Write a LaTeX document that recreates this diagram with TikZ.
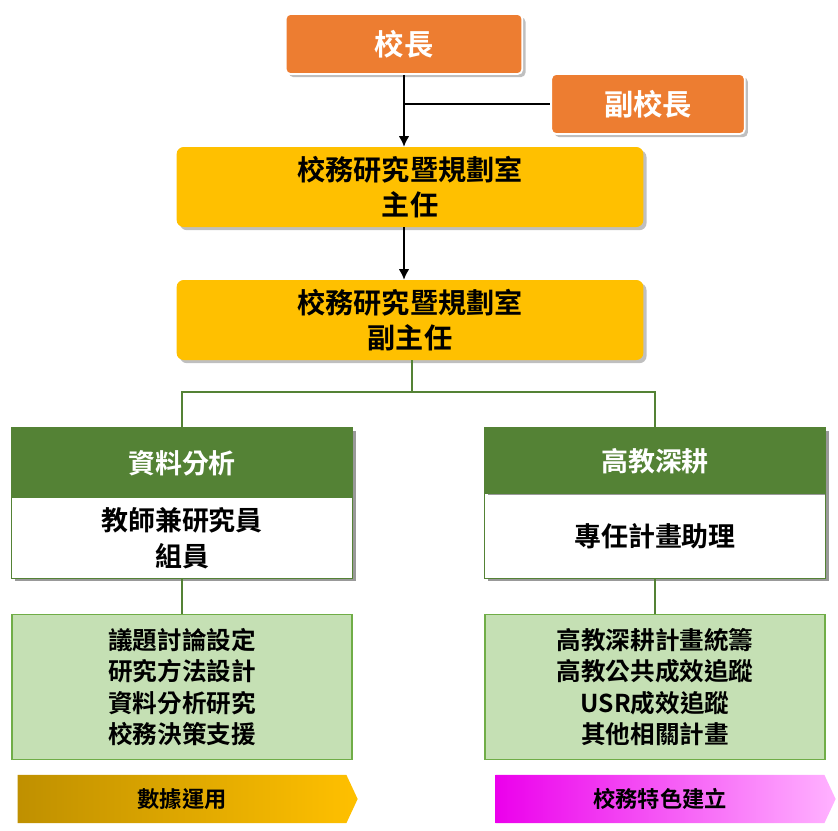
\documentclass[tikz,border=0pt]{standalone}
\usepackage{fontspec}
\setmainfont{Noto Sans CJK TC}[BoldFont={* Bold}]
\usetikzlibrary{shapes.symbols,shadows,arrows.meta}
\definecolor{orangebox}{HTML}{ED7D31}
\definecolor{yellowbox}{HTML}{FFC000}
\definecolor{greenhead}{HTML}{548235}
\definecolor{greenlight}{HTML}{C5E0B4}
\definecolor{greenline}{HTML}{70AD47}
\tikzset{
  lead/.style={fill=orangebox,draw=white,line width=1.5pt,rounded corners=4pt,
    text=white,font=\bfseries\fontsize{25}{30}\selectfont,drop shadow},
  office/.style={fill=yellowbox,rounded corners=6pt,align=center,
    font=\bfseries\fontsize{24}{30}\selectfont,drop shadow},
  head/.style={fill=greenhead,text=white,font=\bfseries\fontsize{23}{28}\selectfont},
  member/.style={fill=white,align=center,font=\bfseries\fontsize{23}{31}\selectfont},
  task/.style={fill=greenlight,draw=greenline,line width=1pt,align=center,
    font=\bfseries\fontsize{21}{27}\selectfont},
  tag/.style={signal,signal to=east,signal pointer angle=130,inner sep=0pt,
    font=\bfseries\fontsize{19}{22}\selectfont},
  link/.style={line width=1.5pt,-{Latex[length=9pt,width=9pt]}},
}
\begin{document}
\begin{tikzpicture}[x=0.03cm,y=-0.03cm]
	\useasboundingbox (0,0) rectangle (838,830);
	% top
	\node [lead,minimum width=7.1cm,minimum height=1.8cm] (head) at (404,44) {校長};
	\node [lead,minimum width=5.8cm,minimum height=1.8cm] (vice) at (648,104) {副校長};
	\node [office,minimum width=14cm,minimum height=2.4cm] (dir) at (410,187) {校務研究暨規劃室\\主任};
	\node [office,minimum width=14cm,minimum height=2.4cm] (vdir) at (410,320) {校務研究暨規劃室\\副主任};
	\coordinate (j) at (head.south |- vice.west);
	\draw [link] (head.south) -- (head.south |- dir.north);
	\draw [line width=1.5pt] (j) -- (vice.west);
	\draw [link] (dir.south -| head.south) -- (vdir.north -| head.south);
	% groups
	\fill [black!40] (15,431) rectangle (356,581);
	\fill [black!40] (488,431) rectangle (829,581);
	\node [head,minimum width=10.2cm,minimum height=2.1cm] (data) at (182,463) {資料分析};
	\node [member,anchor=north,minimum width=10.2cm,minimum height=2.4cm] (staff) at (data.south) {教師兼研究員\\組員};
	\node [head,minimum width=10.2cm,minimum height=2cm] (hesp) at (655,461) {高教深耕};
	\node [member,anchor=north,minimum width=10.2cm,minimum height=2.5cm] (asst) at (hesp.south) {專任計畫助理};
	\draw [greenhead,line width=1pt] (data.north west) rectangle (staff.south east);
	\draw [greenhead,line width=1pt] (hesp.north west) rectangle (asst.south east);
	\coordinate (fork) at (412,392);
	\draw [greenhead,line width=1.5pt] (vdir.south -| fork) -- (fork) -| (data.north);
	\draw [greenhead,line width=1.5pt] (fork) -| (hesp.north);
	% tasks
	\node [task,minimum width=10.2cm,minimum height=4.35cm] (ltask) at (182,687) {議題討論設定\\研究方法設計\\資料分析研究\\校務決策支援};
	\node [task,minimum width=10.2cm,minimum height=4.35cm] (rtask) at (655,687) {高教深耕計畫統籌\\高教公共成效追蹤\\USR成效追蹤\\其他相關計畫};
	\draw [greenhead,line width=1.5pt] (staff.south) -- (ltask.north);
	\draw [greenhead,line width=1.5pt] (asst.south) -- (rtask.north);
	% tags
	\node [tag,left color=yellowbox!75!black,right color=yellowbox,minimum width=10.2cm,minimum height=1.45cm] (use) at (182,799) {數據運用};
	\node [tag,left color=magenta!85!violet,right color=magenta!30,minimum width=10.2cm,minimum height=1.45cm] (feat) at (660,799) {校務特色建立};
\end{tikzpicture}
\end{document}
